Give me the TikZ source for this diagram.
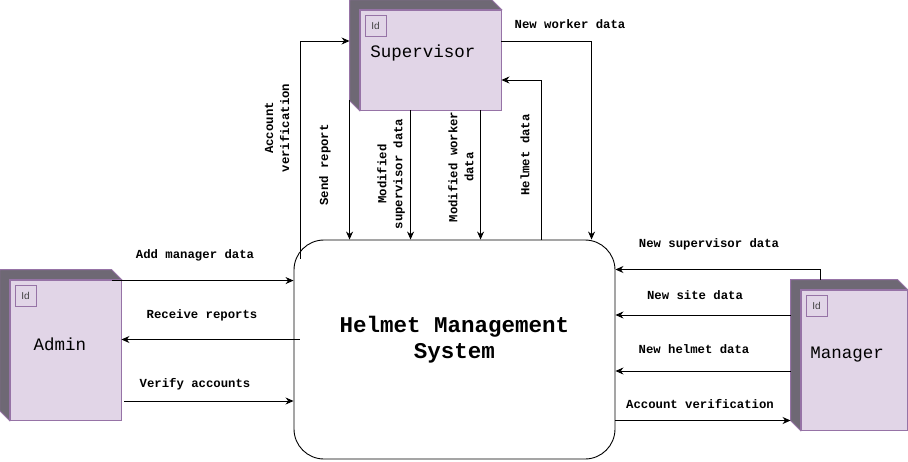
\documentclass[tikz,border=0pt]{standalone}
\usepackage{fontspec}
\setmonofont{Liberation Mono}
\newfontfamily\idfont{Liberation Sans}
\usetikzlibrary{arrows.meta,calc,backgrounds}
\definecolor{NodeFill}{HTML}{E1D5E7}
\definecolor{NodeLine}{HTML}{9673A6}
\definecolor{NodeSide}{RGB}{110,104,116}

\begin{document}
\begin{tikzpicture}[x=1pt,y=-1pt,
    face/.style={draw=NodeLine,fill=NodeFill,line width=0.9pt,inner sep=0pt},
    side/.style={draw=NodeLine,fill=NodeSide,line width=0.9pt},
    idbox/.style={draw=NodeLine,line width=0.8pt,minimum size=21pt,inner sep=0pt,anchor=north west,
                  font=\idfont\fontsize{10}{12}\selectfont,text=black!75},
    ename/.style={font=\ttfamily\fontsize{17.5}{20}\selectfont},
    sysbox/.style={draw,rounded corners=30pt,line width=0.9pt,minimum width=321pt,minimum height=219pt},
    title/.style={align=center,font=\ttfamily\bfseries\fontsize{22.5}{26}\selectfont},
    flow/.style={-{Stealth[length=8pt,width=7pt]},line width=0.9pt},
    lbl/.style={font=\ttfamily\bfseries\fontsize{12.3}{16}\selectfont,align=center,inner sep=0pt},
    vlbl/.style={lbl,rotate=90}]
  \useasboundingbox (0,0) rectangle (908,461);

  \node[sysbox] (sys) at (454.5,349.5) {};
  \node[title] (systitle) at (454.5,340) {Helmet Management\\System};

  \node[face,minimum width=141pt,minimum height=100pt] (sup) at (430.5,60) {};
  \node[face,minimum width=111pt,minimum height=140pt] (adm) at (65.5,350) {};
  \node[face,minimum width=106pt,minimum height=140pt] (man) at (854,360) {};
  \begin{scope}[on background layer]
    \foreach \n in {sup,adm,man}
      \draw[side] (\n.south west) -- ++(-10,-10) -- ($(\n.north west)+(-10,-10)$)
        -- ($(\n.north east)+(-10,-10)$) -- (\n.north east) -- (\n.north west) -- cycle;
  \end{scope}
  \node[idbox] (supid) at ($(sup.north west)+(5,5)$) {Id};
  \node[idbox] (admid) at ($(adm.north west)+(5,5)$) {Id};
  \node[idbox] (manid) at ($(man.north west)+(5,5)$) {Id};
  \node[ename] (supname) at (423,53) {Supervisor};
  \node[ename] (admname) at (60,344) {Admin};
  \node[ename] (manname) at (847,355) {Manager};
  \coordinate (manL) at ($(man.west)+(-10,0)$);

  \draw[flow] ($(sys.north west)+(7,19)$) |- ($(sup.west)+(-10,-19)$);
  \draw[flow] ($(sup.south west)+(-10,-10)$) coordinate (s1) -- (s1 |- sys.north);
  \draw[flow] ($(sup.south west)+(51,0)$) coordinate (s2) -- (s2 |- sys.north);
  \draw[flow] ($(sup.south west)+(121,0)$) coordinate (s3) -- (s3 |- sys.north);
  \draw[flow] ($(sys.north west)+(248,0)$) |- ($(sup.east)+(0,20)$);
  \draw[flow] ($(sup.east)+(0,-19)$) -| ($(sys.north west)+(298,0)$);

  \draw[flow] ($(adm.north east)+(-9,1)$) coordinate (a1) -- (a1 -| sys.west);
  \draw[flow] ($(sys.west)+(6,-10)$) coordinate (a2) -- (a2 -| adm.east);
  \draw[flow] ($(adm.east)+(3,51)$) coordinate (a3) -- (a3 -| sys.west);

  \draw[flow] ($(man.north west)+(20,-10)$) |- ($(sys.east)+(0,-80)$);
  \draw[flow] ($(man.west)+(-10,-45)$) coordinate (m1) -- (m1 -| sys.east);
  \draw[flow] ($(man.west)+(-10,11)$) coordinate (m2) -- (m2 -| sys.east);
  \draw[flow] ($(sys.east)+(0,71)$) coordinate (m3) -- (m3 -| manL);

  \node[vlbl] (lav) at (277,128) {Account\\verification};
  \node[vlbl] (lsr) at (325,165) {Send report};
  \node[vlbl] (lms) at (391,174) {Modified\\supervisor data};
  \node[vlbl] (lmw) at (461,167) {Modified worker\\data};
  \node[vlbl] (lhd) at (525,155) {Helmet data};
  \node[lbl] (lnw) at (570,24) {New worker data};
  \node[lbl] (lam) at (195,255) {Add manager data};
  \node[lbl] (lrr) at (202,315) {Receive reports};
  \node[lbl] (lva) at (195,384) {Verify accounts};
  \node[lbl] (lns) at (709,244) {New supervisor data};
  \node[lbl] (lsd) at (695,295) {New site data};
  \node[lbl] (lhm) at (694,349) {New helmet data};
  \node[lbl] (lmv) at (700,404) {Account verification};
\end{tikzpicture}
\end{document}
